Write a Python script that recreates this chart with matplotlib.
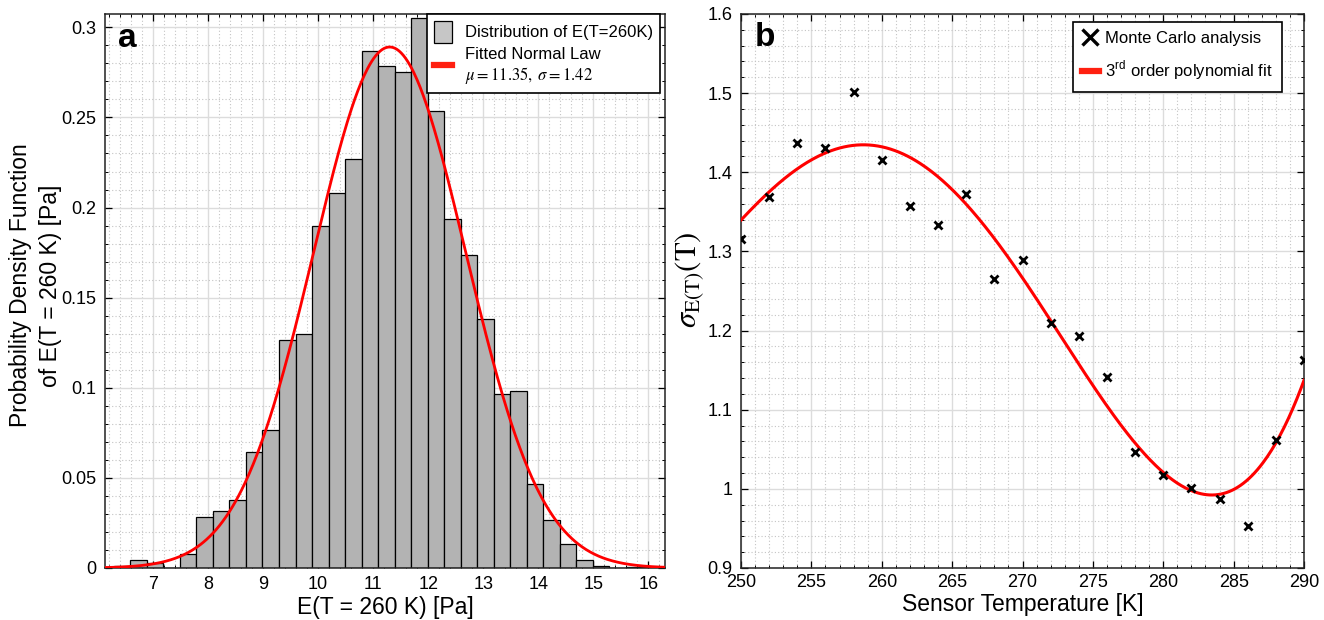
import numpy as np
import matplotlib
matplotlib.use("Agg")
import matplotlib.pyplot as plt
from matplotlib.ticker import AutoMinorLocator, FormatStrFormatter, MultipleLocator
from matplotlib.patches import Patch
from matplotlib.lines import Line2D

plt.rcParams['font.family'] = ['Liberation Sans', 'DejaVu Sans']
plt.rcParams['mathtext.fontset'] = 'stix'

# ---------------- data: panel a (histogram) ----------------
bin_left_edge = 5.99
bin_width = 0.3
pdf_heights = [0.0007, 0.0011, 0.0047, 0.0027, 0.0, 0.0080, 0.0282, 0.0315,
               0.0380, 0.0646, 0.0764, 0.1263, 0.1299, 0.1900, 0.2083, 0.2267,
               0.2866, 0.2784, 0.2751, 0.3050, 0.2536, 0.1937, 0.1735, 0.1382,
               0.0965, 0.0982, 0.0465, 0.0267, 0.0131, 0.0047, 0.0013, 0.0,
               0.0007, 0.0004]
curve_mu = 11.30
curve_sigma = 1.38
legend_mu = 11.35
legend_sigma = 1.42

# ---------------- data: panel b (sigma vs temperature) ----------------
temperature = [250, 252, 254, 256, 258, 260, 262, 264, 266, 268, 270,
               272, 274, 276, 278, 280, 282, 284, 286, 288, 290]
sigma_E = [1.3155, 1.3690, 1.4375, 1.4312, 1.5011, 1.4160, 1.3570, 1.3334,
           1.3730, 1.2648, 1.2890, 1.2100, 1.1930, 1.1413, 1.0460, 1.0177,
           1.0014, 0.9878, 0.9526, 1.0623, 1.1622]
# values of the drawn fit curve
fit_T = [250, 252, 254, 256, 258, 260, 262, 264, 266, 268, 270,
         272, 274, 276, 278, 280, 282, 284, 286, 288, 290]
fit_sigma = [1.337, 1.379, 1.405, 1.426, 1.433, 1.429, 1.415, 1.392, 1.365,
             1.326, 1.261, 1.210, 1.158, 1.106, 1.056, 1.021, 0.998, 0.992,
             1.011, 1.062, 1.135]

W, H = 1324, 620
fig = plt.figure(figsize=(W / 100, H / 100), dpi=100)

def px_axes(x0, x1, y0, y1):
    return fig.add_axes([x0 / W, 1 - y1 / H, (x1 - x0) / W, (y1 - y0) / H])

ax1 = px_axes(105, 665, 14, 568)
ax2 = px_axes(741, 1304, 14, 568)

def style(ax):
    ax.set_axisbelow(True)
    ax.grid(which='major', color='#dcdcdc', lw=1.0, ls='-')
    ax.grid(which='minor', color='#c4c4c4', lw=0.8, ls=(0, (1, 2)))
    ax.tick_params(which='both', direction='in', top=True, right=True,
                   labelsize=13, colors='black')
    ax.tick_params(which='major', length=5, width=0.9, pad=6)
    ax.tick_params(which='minor', length=2.5, width=0.7)
    for s in ax.spines.values():
        s.set_linewidth(1.1)
        s.set_color('#222222')

# ---------------- panel a ----------------
n = len(pdf_heights)
edges = bin_left_edge + bin_width * np.arange(n + 1)
ax1.bar(edges[:-1], pdf_heights, width=np.diff(edges), align='edge',
        color='#b3b3b3', edgecolor='black', linewidth=0.9, zorder=2)
xs = np.linspace(5.5, 17, 600)
ys = np.exp(-0.5 * ((xs - curve_mu) / curve_sigma) ** 2) / (curve_sigma * np.sqrt(2 * np.pi))
ax1.plot(xs, ys, color='#ff0000', lw=2.0, zorder=3)
ax1.set_xlim(6.13, 16.3)
ax1.set_ylim(0, 0.3074)
ax1.xaxis.set_major_locator(MultipleLocator(1))
ax1.yaxis.set_major_locator(MultipleLocator(0.05))
ax1.xaxis.set_minor_locator(AutoMinorLocator(5))
ax1.yaxis.set_minor_locator(AutoMinorLocator(5))
ax1.yaxis.set_major_formatter(FormatStrFormatter('%g'))
style(ax1)
ax1.set_xlabel('E(T = 260 K) [Pa]', fontsize=16.5, labelpad=2)
ax1.set_ylabel('Probability Density Function\nof E(T = 260 K) [Pa]', fontsize=16.5,
               linespacing=1.4)
ax1.yaxis.set_label_coords(-0.077, 0.51)
ax1.text(0.023, 0.940, 'a', transform=ax1.transAxes, fontsize=24,
         fontweight='bold', va='baseline', ha='left', zorder=5)
h1 = [Patch(facecolor='#c6c6c6', edgecolor='black', linewidth=0.9),
      Line2D([], [], color='#ff2010', lw=4.5)]
lab1 = ['Distribution of E(T=260K)',
        'Fitted Normal Law\n$\\mu = %.2f,\\;\\sigma = %.2f$' % (legend_mu, legend_sigma)]
leg1 = ax1.legend(h1, lab1, loc='upper right', bbox_to_anchor=(0.991, 1.0),
                  borderaxespad=0, fontsize=12, handlelength=1.1, handleheight=1.7,
                  handletextpad=0.8, labelspacing=0.25, borderpad=0.4,
                  fancybox=False, framealpha=1, edgecolor='black')
leg1.get_frame().set_linewidth(1.2)
leg1.set_zorder(6)

# ---------------- panel b ----------------
coef = np.polyfit(np.array(fit_T) - 270.0, fit_sigma, 5)
tt = np.linspace(250, 290, 400)
ax2.plot(tt, np.polyval(coef, tt - 270.0), color='#ff0000', lw=2.2, zorder=3)
ax2.plot(temperature, sigma_E, ls='none', marker='x', color='black',
         markersize=5.5, markeredgewidth=2.0, zorder=4)
ax2.set_xlim(250, 290)
ax2.set_ylim(0.9, 1.6)
ax2.xaxis.set_major_locator(MultipleLocator(5))
ax2.yaxis.set_major_locator(MultipleLocator(0.1))
ax2.xaxis.set_minor_locator(AutoMinorLocator(5))
ax2.yaxis.set_minor_locator(AutoMinorLocator(5))
ax2.yaxis.set_major_formatter(FormatStrFormatter('%g'))
ax2.xaxis.set_major_formatter(FormatStrFormatter('%g'))
style(ax2)
ax2.tick_params(axis='x', pad=4)
ax2.set_xlabel('Sensor Temperature [K]', fontsize=16.5, labelpad=2)
ax2.set_ylabel('$\\sigma_{\\mathrm{E(T)}}(\\mathrm{T})$', fontsize=22)
ax2.yaxis.set_label_coords(-0.063, 0.52)
ax2.text(0.025, 0.942, 'b', transform=ax2.transAxes, fontsize=24,
         fontweight='bold', va='baseline', ha='left', zorder=5)
h2 = [Line2D([], [], ls='none', marker='x', color='black', markersize=11,
             markeredgewidth=2.4),
      Line2D([], [], color='#ff2010', lw=4.5)]
lab2 = ['Monte Carlo analysis', '3$^{\\mathregular{rd}}$ order polynomial fit']
leg2 = ax2.legend(h2, lab2, loc='upper right', bbox_to_anchor=(0.961, 0.9856),
                  borderaxespad=0, fontsize=12, handlelength=1.0,
                  handletextpad=0.4, labelspacing=0.8, borderpad=0.55,
                  fancybox=False, framealpha=1, edgecolor='black')
leg2.get_frame().set_linewidth(1.2)
leg2.set_zorder(6)

fig.savefig('out.png', dpi=100)
